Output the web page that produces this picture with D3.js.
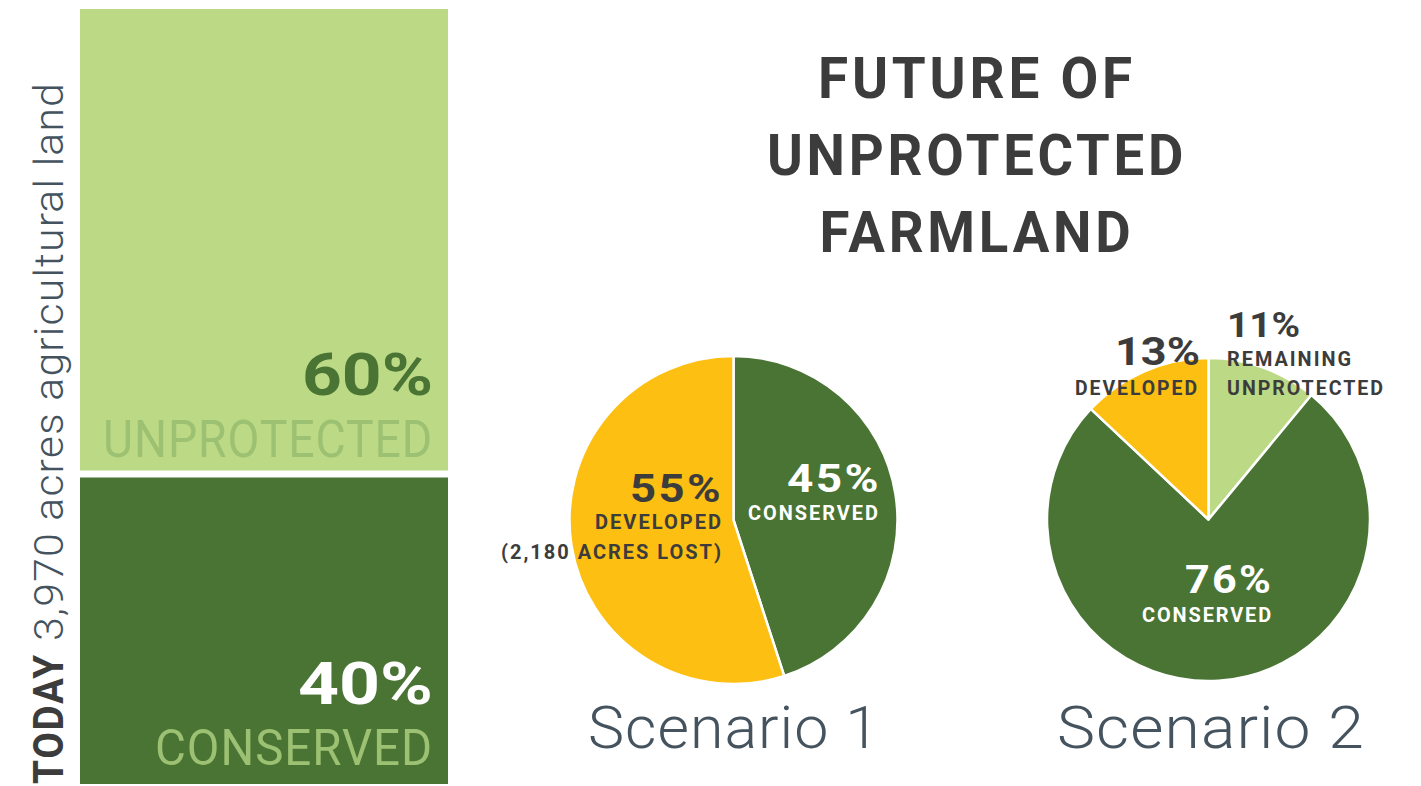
<!DOCTYPE html>
<html>
<head>
<meta charset="utf-8">
<script src="https://cdn.jsdelivr.net/npm/d3@7/dist/d3.min.js"></script>
<style>
  html, body { margin: 0; padding: 0; background: #ffffff; }
  svg { display: block; font-family: Roboto, "Noto Sans", sans-serif; }
</style>
</head>
<body>
<svg id="chart" width="1421" height="786"></svg>
<script>
// Today's split of agricultural land
const todayCategories = ["CONSERVED", "UNPROTECTED"];
const todayValues = [40, 60];
const totalAcres = "3,970";

// Scenario 1: conserved vs developed
const scenario1Categories = ["CONSERVED", "DEVELOPED"];
const scenario1Values = [45, 55];
const acresLost = "2,180";

// Scenario 2: remaining unprotected, conserved, developed
const scenario2Categories = ["REMAINING UNPROTECTED", "CONSERVED", "DEVELOPED"];
const scenario2Values = [11, 76, 13];

const titleLines = ["FUTURE OF", "UNPROTECTED", "FARMLAND"];
const scenarioNames = ["Scenario 1", "Scenario 2"];

const C = {
  light: "#bcd985",
  dark: "#4a7434",
  yellow: "#fcbf12",
  ink: "#3c3c3c",
  slate: "#44535e",
  muted: "#9dc172",
  white: "#ffffff"
};
const colorOf = {
  "CONSERVED": C.dark,
  "UNPROTECTED": C.light,
  "REMAINING UNPROTECTED": C.light,
  "DEVELOPED": C.yellow
};

const svg = d3.select("#chart");

function label(g, x, y, text, o) {
  const t = g.append("text")
    .attr("x", x).attr("y", y)
    .attr("font-size", o.size)
    .attr("font-weight", o.weight || 700)
    .attr("fill", o.fill || C.ink)
    .attr("text-anchor", o.anchor || "start")
    .attr("letter-spacing", o.ls || 0)
    .text(text);
  if (o.len) t.attr("textLength", o.len).attr("lengthAdjust", "spacingAndGlyphs");
  return t;
}

// ---------- stacked bar: today ----------
const barX = d3.scaleBand().domain(["today"]).range([80, 448]).padding(0);
const barY = d3.scaleLinear().domain([0, 100]).range([784, 9]);
const gap = 3.5;

const stackData = [Object.fromEntries(todayCategories.map((c, i) => [c, todayValues[i]]))];
const stacked = d3.stack().keys(todayCategories)(stackData);

const barG = svg.append("g");
barG.selectAll("rect")
  .data(stacked)
  .join("rect")
  .attr("x", barX("today"))
  .attr("width", barX.bandwidth())
  .attr("y", d => barY(d[0][1]) + (d[0][1] < 100 ? gap : 0))
  .attr("height", d => barY(d[0][0]) - barY(d[0][1]) - (d[0][1] < 100 ? gap : 0) - (d[0][0] > 0 ? gap : 0))
  .attr("fill", d => colorOf[d.key]);

// value and name inside each bar segment, right-aligned
label(barG, 433, 395, todayValues[1] + "%", { size: 60, weight: 700, fill: C.dark, anchor: "end", len: 131 });
label(barG, 433, 457, todayCategories[1], { size: 52, weight: 400, fill: C.muted, anchor: "end", len: 330, ls: 1 });
label(barG, 433, 704, todayValues[0] + "%", { size: 60, weight: 700, fill: C.white, anchor: "end", len: 135 });
label(barG, 433, 765, todayCategories[0], { size: 50, weight: 400, fill: C.muted, anchor: "end", len: 278, ls: 1 });

// vertical caption along the bar
const capG = svg.append("g").attr("transform", "translate(63,784) rotate(-90)");
label(capG, 0, 0, "TODAY", { size: 43, weight: 700, fill: C.ink, len: 131, ls: 2 });
label(capG, 143, 0, totalAcres + " acres agricultural land", { size: 40, weight: 300, fill: C.slate, len: 559, ls: 1 });

// ---------- title ----------
const titleG = svg.append("g");
const titleBase = [98, 175, 252];
const titleLen = [318, 420, 315];
titleLines.forEach((t, i) => {
  label(titleG, 977, titleBase[i], t, { size: 58, weight: 700, fill: C.ink, anchor: "middle", len: titleLen[i], ls: 4 });
});

// ---------- pies ----------
const pie = d3.pie().sort(null).value(d => d.value).startAngle(0).endAngle(2 * Math.PI);

function drawPie(cx, cy, r, cats, vals) {
  const g = svg.append("g").attr("transform", `translate(${cx},${cy})`);
  const arc = d3.arc().innerRadius(0).outerRadius(r);
  g.selectAll("path")
    .data(pie(cats.map((c, i) => ({ cat: c, value: vals[i] }))))
    .join("path")
    .attr("d", arc)
    .attr("fill", d => colorOf[d.data.cat])
    .attr("stroke", C.white)
    .attr("stroke-width", 2.5)
    .attr("stroke-linejoin", "round");
  return g;
}

// Scenario 1
drawPie(733.5, 520, 164, scenario1Categories, scenario1Values);
const s1 = svg.append("g");
label(s1, 881, 492, scenario1Values[0] + "%", { size: 38, weight: 700, fill: C.white, anchor: "end", len: 94, ls: 2 });
label(s1, 880, 520, scenario1Categories[0], { size: 20, weight: 700, fill: C.white, anchor: "end", len: 132, ls: 2 });
label(s1, 723, 502, scenario1Values[1] + "%", { size: 38, weight: 700, fill: C.ink, anchor: "end", len: 93, ls: 2 });
label(s1, 723, 529, scenario1Categories[1], { size: 20, weight: 700, fill: C.ink, anchor: "end", len: 128, ls: 2 });
label(s1, 723, 559, "(" + acresLost + " ACRES LOST)", { size: 20, weight: 700, fill: C.ink, anchor: "end", len: 222, ls: 2 });

// Scenario 2
drawPie(1208.5, 519.5, 161.5, scenario2Categories, scenario2Values);
const s2 = svg.append("g");
label(s2, 1227, 337, scenario2Values[0] + "%", { size: 35, weight: 700, fill: C.ink, anchor: "start", len: 73 });
label(s2, 1227, 366, "REMAINING", { size: 20, weight: 700, fill: C.ink, anchor: "start", len: 126, ls: 2 });
label(s2, 1227, 395, "UNPROTECTED", { size: 20, weight: 700, fill: C.ink, anchor: "start", len: 158, ls: 2 });
label(s2, 1200, 365, scenario2Values[2] + "%", { size: 38, weight: 700, fill: C.ink, anchor: "end", len: 85 });
label(s2, 1199, 395, scenario2Categories[2], { size: 20, weight: 700, fill: C.ink, anchor: "end", len: 124, ls: 2 });
label(s2, 1273, 593, scenario2Values[1] + "%", { size: 39, weight: 700, fill: C.white, anchor: "end", len: 88, ls: 2 });
label(s2, 1273, 622, scenario2Categories[1], { size: 21, weight: 700, fill: C.white, anchor: "end", len: 131, ls: 2 });

// scenario captions
const capX = [734, 1211];
const capLen = [292, 308];
scenarioNames.forEach((n, i) => {
  label(svg, capX[i], 748, n, { size: 60, weight: 300, fill: C.slate, anchor: "middle", len: capLen[i], ls: 1 });
});
</script>
</body>
</html>
